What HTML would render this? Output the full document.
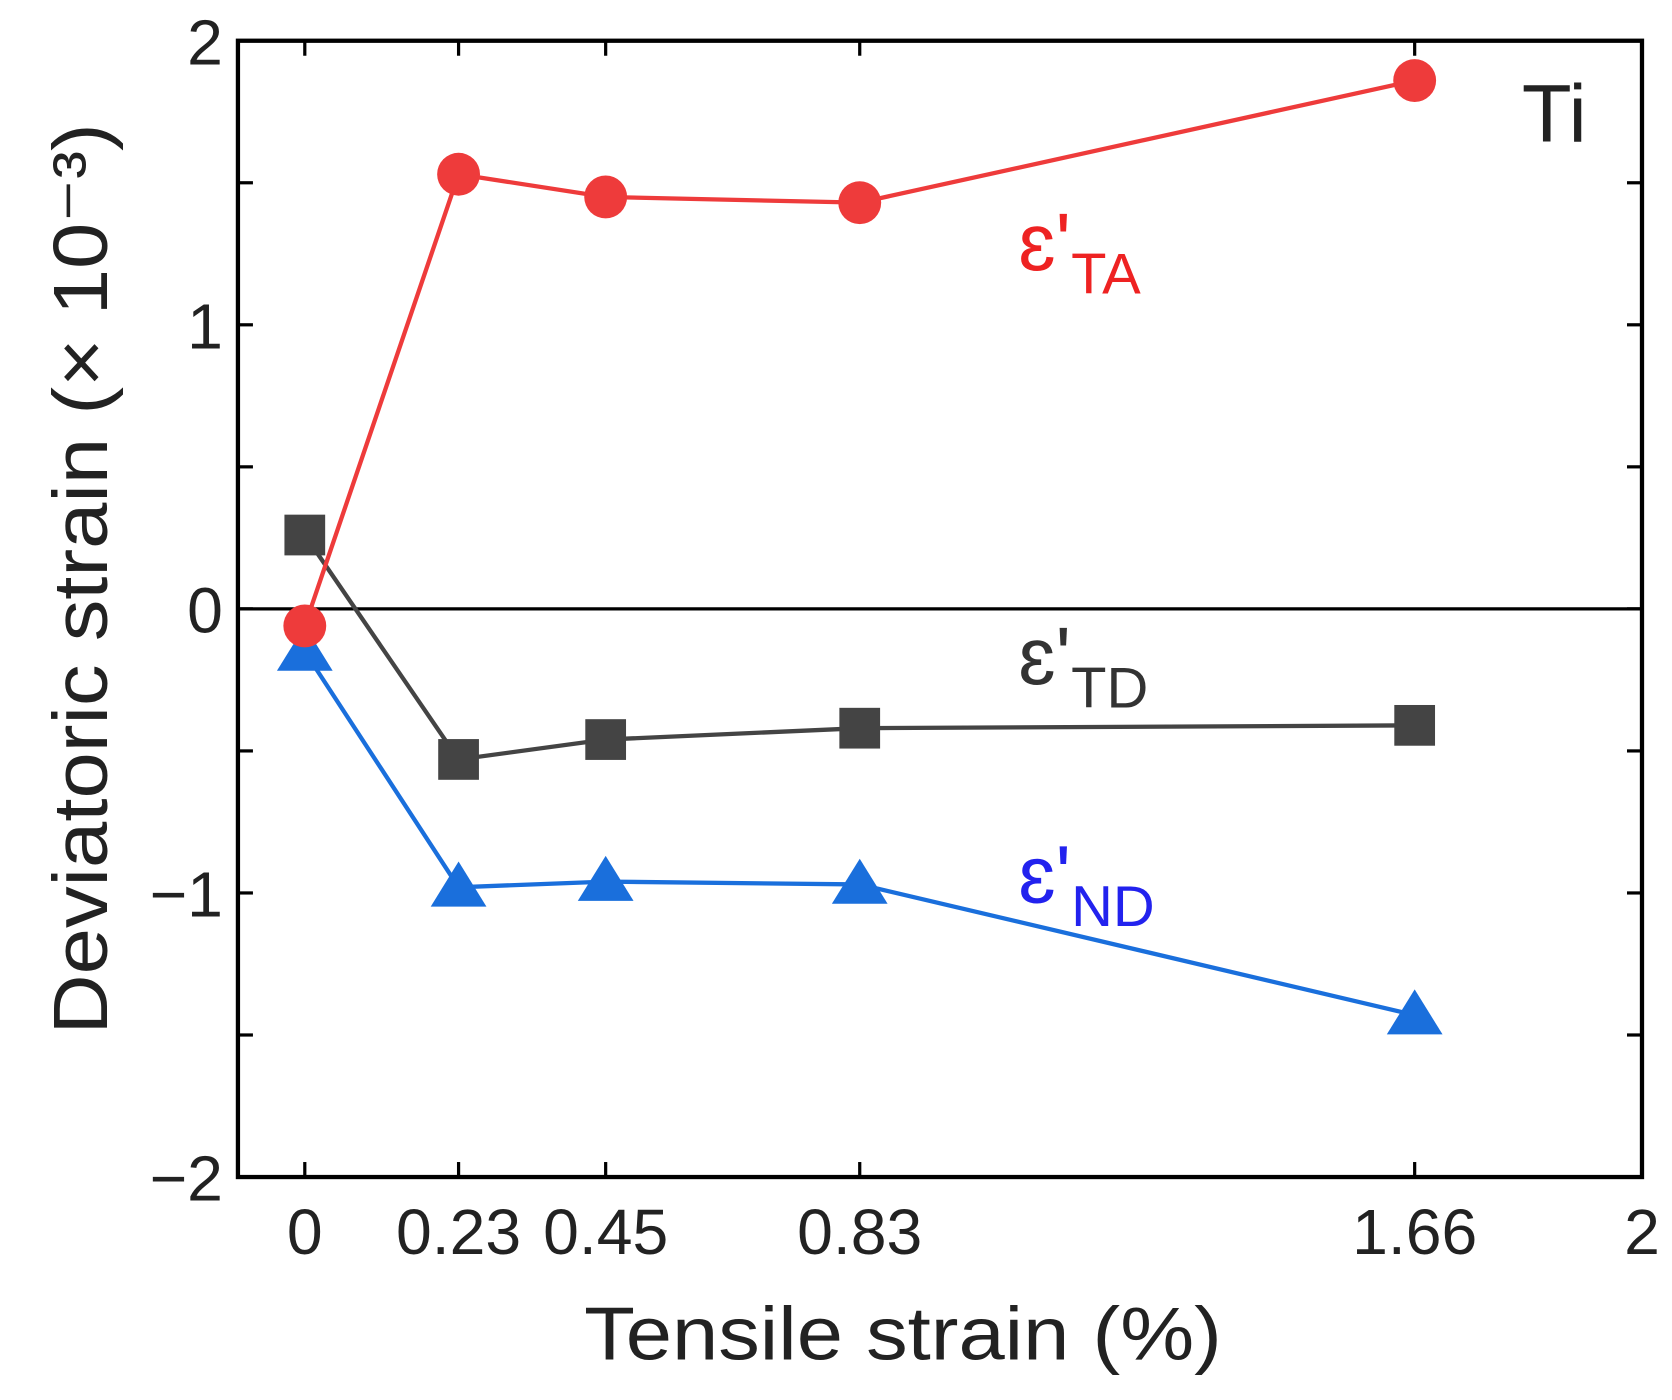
<!DOCTYPE html>
<html><head><meta charset="utf-8"><style>
html,body{margin:0;padding:0;background:#fff;overflow:hidden}
svg{display:block}
text{font-family:"Liberation Sans",sans-serif}
</style></head><body>
<svg id="chart" width="1672" height="1400" viewBox="0 0 1560 1306" preserveAspectRatio="none" xmlns="http://www.w3.org/2000/svg"></svg>
<script>
const xCats = [0, 0.23, 0.45, 0.83, 1.66];
const xTickLabels = ["0", "0.23", "0.45", "0.83", "1.66", "2"];
const xTickValues = [0, 0.23, 0.45, 0.83, 1.66, 2];
const yTickValues = [-2, -1, 0, 1, 2];
const yTickLabels = ["\u22122", "\u22121", "0", "1", "2"];
const seriesTA = [-0.06, 1.53, 1.45, 1.43, 1.86];
const seriesTD = [0.26, -0.53, -0.46, -0.42, -0.41];
const seriesND = [-0.15, -0.98, -0.96, -0.97, -1.43];

const NS = "http://www.w3.org/2000/svg";
const svg = document.getElementById('chart');
const L = 222, R = 1532, T = 38, B = 1098;
const xMin = -0.1, xMax = 2, yMin = -2, yMax = 2;
function xs(v){ return L + (v - xMin) / (xMax - xMin) * (R - L); }
function ys(v){ return B - (v - yMin) / (yMax - yMin) * (B - T); }
function mk(tag, attrs, parent){
  const e = document.createElementNS(NS, tag);
  for (const k in attrs) e.setAttribute(k, attrs[k]);
  (parent || svg).appendChild(e);
  return e;
}
const frame = mk('rect', {x:L, y:T, width:R-L, height:B-T, fill:'none', stroke:'#000', 'stroke-width':4});


const zl = mk('line', {x1:L, x2:R, y1:ys(0), y2:ys(0), stroke:'#000', 'stroke-width':3});


for (let v = yMin; v <= yMax + 1e-9; v += 0.5) {
  const len = 14;
  const t1 = mk('line', {x1:L, x2:L+len, y1:ys(v), y2:ys(v), stroke:'#000', 'stroke-width':3});
  
  
  const t2 = mk('line', {x1:R-len, x2:R, y1:ys(v), y2:ys(v), stroke:'#000', 'stroke-width':3});
  
  
}
yTickValues.forEach((v, i) => {
  const t = mk('text', {x:L-14, y:ys(v)+22, 'font-size':60, 'text-anchor':'end', fill:'#222'});
  t.textContent = yTickLabels[i];
  
  
});
xTickValues.forEach((v, i) => {
  const a = mk('line', {x1:xs(v), x2:xs(v), y1:B, y2:B-14, stroke:'#000', 'stroke-width':3});
  
  
  const b = mk('line', {x1:xs(v), x2:xs(v), y1:T, y2:T+14, stroke:'#000', 'stroke-width':3});
  
  
  const t = mk('text', {x:xs(v), y:B+72, 'font-size':60, 'text-anchor':'middle', fill:'#222'});
  t.textContent = xTickLabels[i];
  
  
});
const xt = mk('text', {x:545, y:1268, 'font-size':70, fill:'#222', textLength:595, lengthAdjust:'spacingAndGlyphs'});
xt.textContent = 'Tensile strain (%)';


const yt = mk('text', {x:-425, y:0, 'font-size':72, fill:'#222', transform:'translate(100,540) rotate(-90)', textLength:850, lengthAdjust:'spacingAndGlyphs'});
yt.textContent = 'Deviatoric strain (\u00d7 10\u207b\u00b3)';



function drawSeries(vals, color, shape, name){
  const g = mk('g', {});
  
  
  const pts = vals.map((v, i) => xs(xCats[i]) + ',' + ys(v)).join(' ');
  mk('polyline', {points:pts, fill:'none', stroke:color, 'stroke-width':4}, g);
  vals.forEach((v, i) => {
    const cx = xs(xCats[i]), cy = ys(v);
    let m;
    if (shape === 'circle') m = mk('circle', {cx:cx, cy:cy, r:20, fill:color}, g);
    else if (shape === 'square') m = mk('rect', {x:cx-19, y:cy-19, width:38, height:38, fill:color}, g);
    else m = mk('polygon', {points:(cx)+','+(cy-24)+' '+(cx-26)+','+(cy+18)+' '+(cx+26)+','+(cy+18), fill:color}, g);
    
    
  });
}
drawSeries(seriesTD, '#444', 'square', 'series-td');
drawSeries(seriesND, '#1a6fdc', 'triangle', 'series-nd');
drawSeries(seriesTA, '#ee3b3b', 'circle', 'series-ta');

function label(x, y, sub, color, name){
  const t = mk('text', {x:x, y:y, 'font-size':76, fill:color});
  
  
  const a = mk('tspan', {}, t); a.textContent = "\u025b'";
  const b = mk('tspan', {'font-size':54, dy:22}, t); b.textContent = sub;
}
label(950, 252, 'TA', '#ee2222', 'label-ta');
label(950, 638, 'TD', '#333', 'label-td');
label(950, 842, 'ND', '#2222ee', 'label-nd');
const ti = mk('text', {x:1420, y:132, 'font-size':76, fill:'#222'});
ti.textContent = 'Ti';


</script>
</body></html>
